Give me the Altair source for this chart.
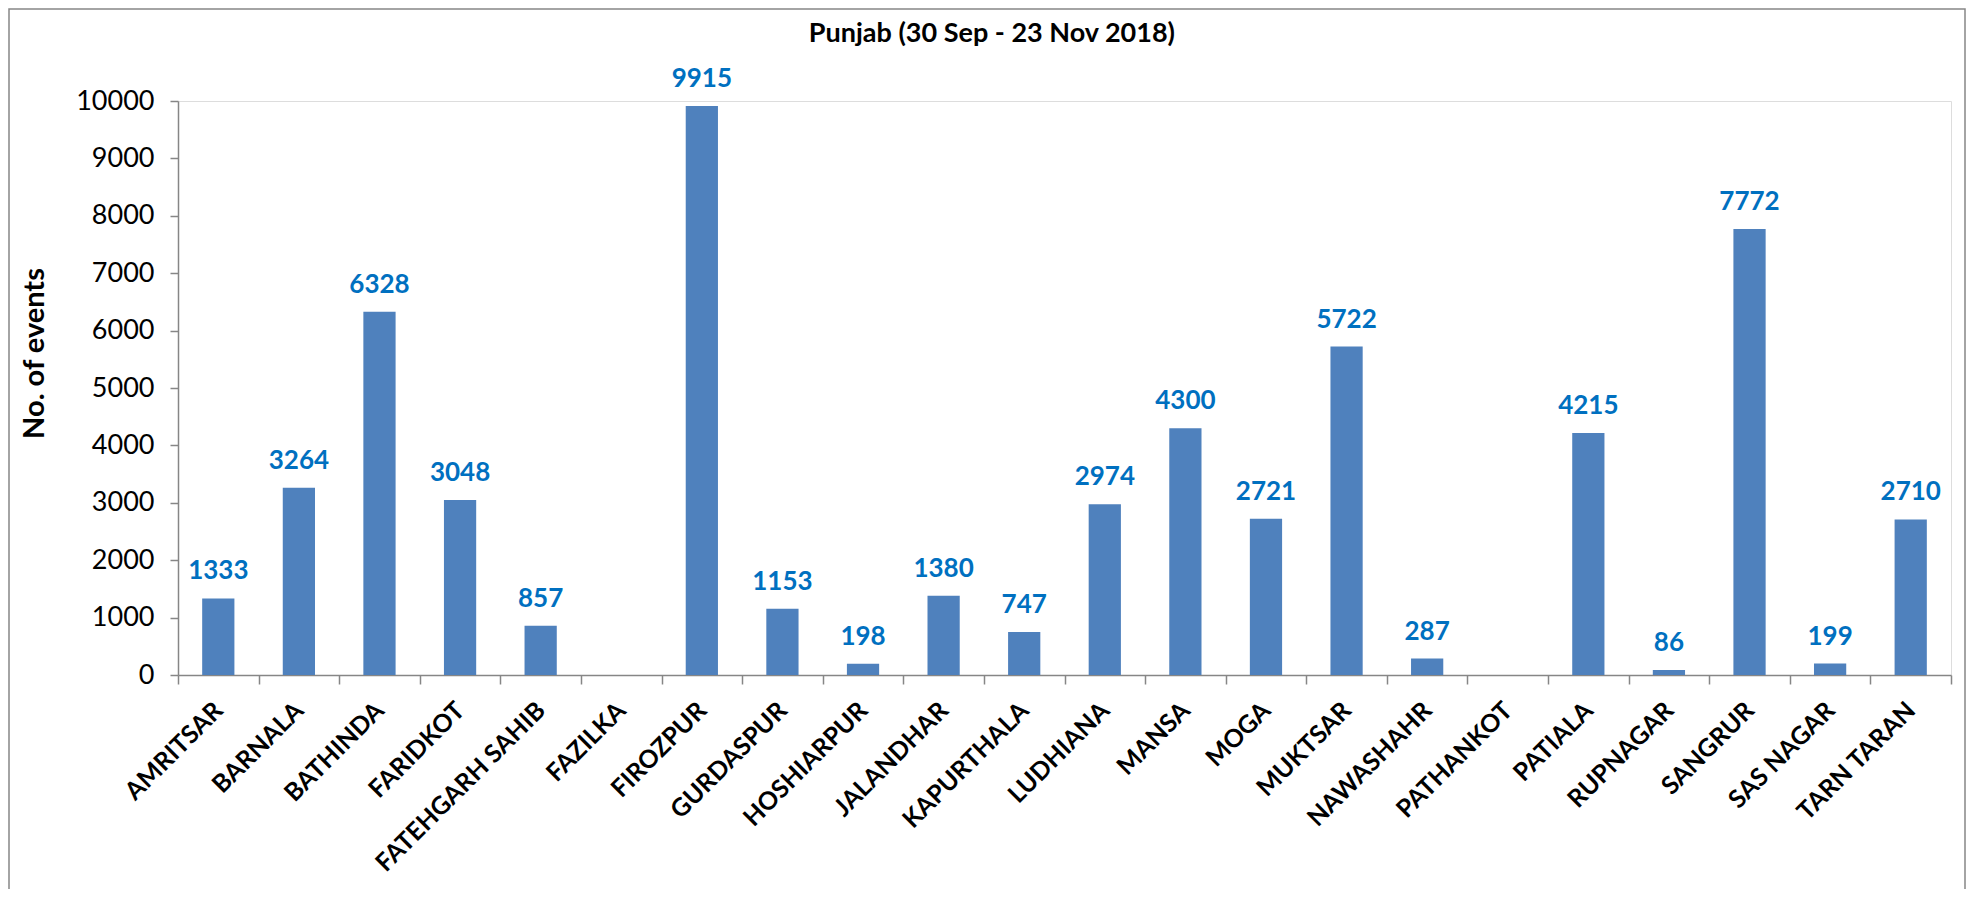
import altair as alt
import pandas as pd

districts = ["AMRITSAR", "BARNALA", "BATHINDA", "FARIDKOT", "FATEHGARH SAHIB", "FAZILKA",
             "FIROZPUR", "GURDASPUR", "HOSHIARPUR", "JALANDHAR", "KAPURTHALA", "LUDHIANA",
             "MANSA", "MOGA", "MUKTSAR", "NAWASHAHR", "PATHANKOT", "PATIALA", "RUPNAGAR",
             "SANGRUR", "SAS NAGAR", "TARN TARAN"]
events = [1333, 3264, 6328, 3048, 857, None, 9915, 1153, 198, 1380, 747, 2974,
          4300, 2721, 5722, 287, None, 4215, 86, 7772, 199, 2710]
y_ticks = [0, 1000, 2000, 3000, 4000, 5000, 6000, 7000, 8000, 9000, 10000]

df = pd.DataFrame({"district": districts, "events": events})

W, H = 1773, 574
GRAY = "#868686"

x_enc = alt.X("district:N", sort=districts,
              scale=alt.Scale(paddingInner=0, paddingOuter=0),
              axis=alt.Axis(title=None, labelAngle=315, labelAlign="right", labelBaseline="middle",
                            labelFont="Lato", labelFontWeight="bold", labelFontSize=25,
                            labelColor="black", labelPadding=22, labelLimit=0, tickBand="extent",
                            tickSize=9, tickColor=GRAY, tickWidth=1.5,
                            domainColor=GRAY, domainWidth=1.5, labelOverlap=False))

y_enc = alt.Y("events:Q", scale=alt.Scale(domain=[0, 10000], nice=False),
              axis=alt.Axis(title="No. of events", values=y_ticks, grid=False, format="d",
                            labelFont="Lato", labelFontSize=27, labelColor="black",
                            labelPadding=16, tickSize=8, tickColor=GRAY, tickWidth=1.5,
                            domainColor=GRAY, domainWidth=1.5,
                            titleFont="Lato", titleFontSize=29, titleFontWeight="bold",
                            titleColor="black", titleAngle=270, titleX=-144, titleY=252,
                            titleAlign="center", titleBaseline="middle"))

base = alt.Chart(df)

bars = base.mark_bar(color="#4F81BD", width=alt.RelativeBandSize(0.4)).encode(x=x_enc, y=y_enc)

labels = base.transform_filter("isValid(datum.events)").mark_text(
    font="Lato", fontWeight="bold", fontSize=26, color="#0070C0",
    baseline="alphabetic", dy=-19
).encode(x=alt.X("district:N", sort=districts), y="events:Q", text=alt.Text("events:Q", format="d"))

frame = alt.Chart(pd.DataFrame({"a": [0]})).mark_rect(filled=False, stroke=GRAY, strokeWidth=1.5).encode(
    x=alt.value(-169), x2=alt.value(W + 14), y=alt.value(-92), y2=alt.value(900)
)

chart = alt.layer(frame, bars, labels).properties(
    width=W, height=H,
    title=alt.TitleParams("Punjab (30 Sep - 23 Nov 2018)", font="Lato", fontSize=27,
                          fontWeight="bold", color="black", anchor="end", dx=-776,
                          frame="group", baseline="alphabetic", offset=0, dy=61),
    autosize=alt.AutoSizeParams(type="none"),
    padding={"left": 170, "top": 93, "right": 15, "bottom": 214},
).configure_view(stroke=None).configure(background="white")

chart.save("out.html", embed_options={"renderer": "svg", "actions": False})
